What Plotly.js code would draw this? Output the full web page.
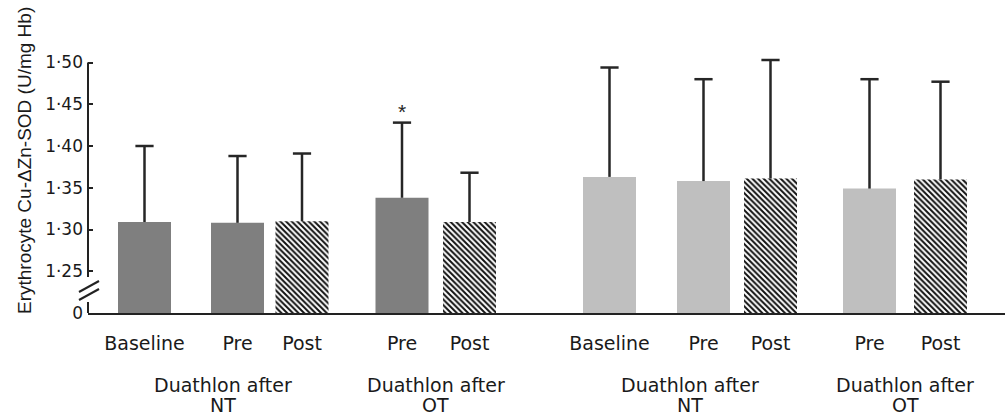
<!DOCTYPE html>
<html>
<head>
<meta charset="utf-8">
<script src="https://cdn.plot.ly/plotly-3.0.1.min.js"></script>
<style>html,body{margin:0;padding:0;background:#fff;}#chart{width:1005px;height:417px;}</style>
</head>
<body>
<div id="chart"></div>
<script>
// ---- data ----
const categories = ['Baseline','Pre','Post','Pre','Post','Baseline','Pre','Post','Pre','Post'];
const meanValues = [1.309, 1.308, 1.310, 1.338, 1.309, 1.363, 1.358, 1.361, 1.349, 1.360];
const sdValues   = [0.091, 0.080, 0.081, 0.090, 0.059, 0.131, 0.122, 0.142, 0.131, 0.117];
const subjectSet = ['A','A','A','A','A','B','B','B','B','B'];
const significant = [false, false, false, true, false, false, false, false, false, false];
const groupLabels = ['Duathlon after<br>NT', 'Duathlon after<br>OT', 'Duathlon after<br>NT', 'Duathlon after<br>OT'];
const groupMembers = [[0,1,2],[3,4],[5,6,7],[8,9]];
const yTickValues = [1.20, 1.25, 1.30, 1.35, 1.40, 1.45, 1.50];
const yTickLabels = ['0', '1\u00b725', '1\u00b730', '1\u00b735', '1\u00b740', '1\u00b745', '1\u00b750'];
const yTitle = 'Erythrocyte Cu-\u0394Zn-SOD (U/mg Hb)';

// ---- layout (positions / styles) ----
const barX = [56.5, 149.5, 214, 314, 381.5, 521.5, 615.5, 682.5, 781.5, 852.5];
const W = 1005, H = 417, ML = 88, MR = 0, MT = 46, MB = 104;
const plotW = W - ML - MR, plotH = H - MT - MB;
const yMin = 1.20, yMax = 1.20 + 0.30 * plotH / 250.5;
const pxX = px => (px - ML) / plotW;            // page px -> paper x
const pxY = py => (H - MB - py) / plotH;        // page px -> paper y
const valY = v => pxY(H - MB - (v - yMin) / (yMax - yMin) * plotH);

const colorFor = s => s === 'A' ? '#7f7f7f' : '#bfbfbf';
const hatched = categories.map(c => c === 'Post');
const errCol = '#262626';

const solidTrace = {
  type: 'bar',
  x: barX,
  y: meanValues.map((v, i) => hatched[i] ? null : v),
  width: 53,
  marker: {color: subjectSet.map(colorFor), line: {width: 0}},
  error_y: {type: 'data', symmetric: false,
    array: sdValues.map((s, i) => hatched[i] ? null : s),
    arrayminus: sdValues.map(() => 0),
    color: errCol, thickness: 2.5, width: 0},
  hoverinfo: 'skip'
};
const hatchTrace = {
  type: 'bar',
  x: barX,
  y: meanValues.map((v, i) => hatched[i] ? v : null),
  width: 53,
  marker: {
    color: '#111111',
    line: {width: 0},
    pattern: {shape: '\\', fillmode: 'replace', fgcolor: '#111111', bgcolor: '#ffffff', size: 4, solidity: 0.5}
  },
  error_y: {type: 'data', symmetric: false,
    array: sdValues.map((s, i) => hatched[i] ? s : null),
    arrayminus: sdValues.map(() => 0),
    color: errCol, thickness: 2.5, width: 0},
  hoverinfo: 'skip'
};
// caps at the top of each error bar
const capTrace = {
  type: 'scatter', mode: 'markers',
  x: barX,
  y: meanValues.map((v, i) => v + sdValues[i]),
  marker: {symbol: 'line-ew', size: 13, color: errCol, line: {width: 2.5, color: errCol}},
  cliponaxis: false,
  hoverinfo: 'skip'
};

const annotations = [];
annotations.push({
  xref: 'paper', yref: 'paper', x: pxX(24), y: pxY(161),
  text: yTitle, textangle: -90, showarrow: false,
  xanchor: 'center', yanchor: 'middle',
  font: {family: 'Liberation Sans, Arial, sans-serif', size: 19, color: '#1a1a1a'}
});
const labelFont = {family: 'DejaVu Sans, sans-serif', size: 19, color: '#1a1a1a'};
groupMembers.forEach((idx, g) => {
  const xs = idx.map(i => barX[i]);
  const cx = (Math.min(...xs) + Math.max(...xs)) / 2;
  const lines = groupLabels[g].split('<br>');
  annotations.push({
    xref: 'x', yref: 'paper', x: cx, y: pxY(372),
    text: lines[0], showarrow: false, xanchor: 'center', yanchor: 'top',
    font: labelFont
  });
  annotations.push({
    xref: 'x', yref: 'paper', x: cx, y: pxY(417), borderpad: 0,
    text: lines[1], showarrow: false, xanchor: 'center', yanchor: 'bottom',
    font: labelFont
  });
});
significant.forEach((s, i) => {
  if (!s) return;
  annotations.push({
    xref: 'x', yref: 'y', x: barX[i], y: meanValues[i] + sdValues[i],
    text: '*', showarrow: false, xanchor: 'center', yanchor: 'bottom', yshift: -2,
    font: {family: 'Liberation Sans, Arial, sans-serif', size: 21, color: '#262626'}
  });
});

const axisCol = '#222222';
const shapes = [
  {type: 'line', xref: 'paper', yref: 'paper', x0: 0, x1: 0, y0: valY(1.50), y1: pxY(277), line: {color: axisCol, width: 2}},
  {type: 'line', xref: 'paper', yref: 'paper', x0: 0, x1: 0, y0: pxY(302), y1: 0, line: {color: axisCol, width: 2}},
  {type: 'line', xref: 'paper', yref: 'paper', x0: pxX(79), x1: pxX(99), y0: pxY(292), y1: pxY(281), line: {color: axisCol, width: 2}},
  {type: 'line', xref: 'paper', yref: 'paper', x0: pxX(79), x1: pxX(99), y0: pxY(300), y1: pxY(289), line: {color: axisCol, width: 2}}
];

const layout = {
  width: W, height: H,
  margin: {l: ML, r: MR, t: MT, b: MB, pad: 0},
  paper_bgcolor: '#ffffff', plot_bgcolor: '#ffffff',
  showlegend: false,
  barmode: 'overlay',
  xaxis: {
    range: [0, plotW], tickvals: barX, ticktext: categories,
    showgrid: false, zeroline: false, showline: true, linecolor: axisCol, linewidth: 2,
    ticks: '', ticklabelstandoff: 12,
    tickfont: {family: 'DejaVu Sans, sans-serif', size: 19, color: '#1a1a1a'}
  },
  yaxis: {
    range: [yMin, yMax], tickvals: yTickValues, ticktext: yTickLabels,
    showgrid: false, zeroline: false, showline: false,
    ticks: 'inside', ticklen: 5, tickwidth: 2, tickcolor: axisCol,
    ticklabelstandoff: 4,
    tickfont: {family: 'DejaVu Sans, sans-serif', size: 17, color: '#1a1a1a'}
  },
  annotations: annotations,
  shapes: shapes
};

Plotly.newPlot('chart', [solidTrace, hatchTrace, capTrace], layout, {staticPlot: true, displayModeBar: false});
</script>
</body>
</html>
